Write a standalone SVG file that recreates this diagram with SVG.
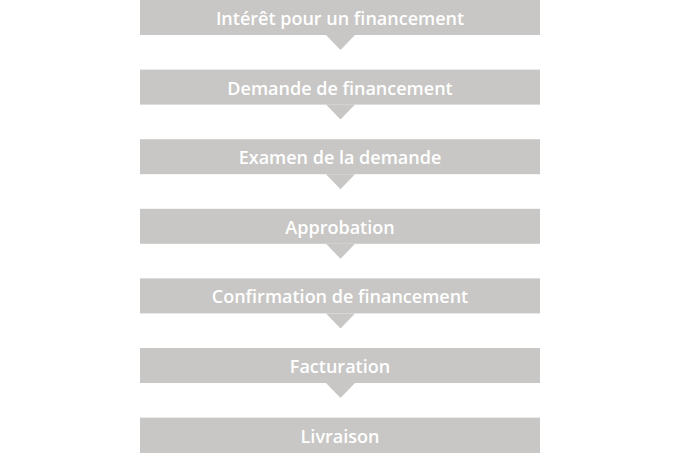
<svg xmlns="http://www.w3.org/2000/svg" width="680" height="453" viewBox="0 0 680 453">
<style>
.bar{fill:#c8c7c5}
.arr{fill:#c8c7c5}
.lbl{font-family:"Open Sans","Liberation Sans",sans-serif;font-weight:600;font-size:18px;fill:#ffffff;text-anchor:middle}
</style>
<rect width="680" height="453" fill="#ffffff"/>
<g id="connectors">
<polygon class="arr" points="326,35 355,35 340.5,50"/>
<polygon class="arr" points="326,104.6 355,104.6 340.5,119.6"/>
<polygon class="arr" points="326,174.2 355,174.2 340.5,189.2"/>
<polygon class="arr" points="326,243.8 355,243.8 340.5,258.8"/>
<polygon class="arr" points="326,313.4 355,313.4 340.5,328.4"/>
<polygon class="arr" points="326,383 355,383 340.5,398"/>
</g>
<g id="n1"><rect class="bar" x="140" y="0" width="400" height="35"/><text class="lbl" x="340" y="25">Intérêt pour un financement</text></g>
<g id="n2"><rect class="bar" x="140" y="69.6" width="400" height="35"/><text class="lbl" x="340" y="94.6">Demande de financement</text></g>
<g id="n3"><rect class="bar" x="140" y="139.2" width="400" height="35"/><text class="lbl" x="340" y="164.2">Examen de la demande</text></g>
<g id="n4"><rect class="bar" x="140" y="208.8" width="400" height="35"/><text class="lbl" x="340" y="233.8">Approbation</text></g>
<g id="n5"><rect class="bar" x="140" y="278.4" width="400" height="35"/><text class="lbl" x="340" y="303.4">Confirmation de financement</text></g>
<g id="n6"><rect class="bar" x="140" y="348" width="400" height="35"/><text class="lbl" x="340" y="373">Facturation</text></g>
<g id="n7"><rect class="bar" x="140" y="417.6" width="400" height="35.4"/><text class="lbl" x="340" y="442.6">Livraison</text></g>
</svg>
